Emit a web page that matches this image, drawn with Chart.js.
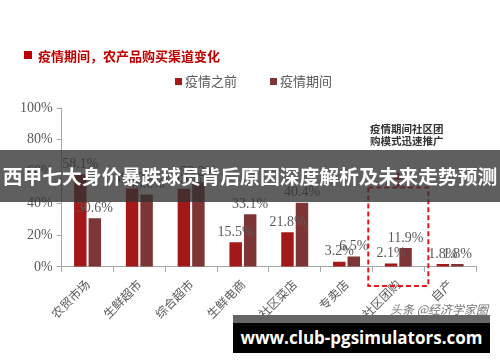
<!DOCTYPE html>
<html>
<head>
<meta charset="utf-8">
<script src="https://cdn.jsdelivr.net/npm/chart.js@4"></script>
<style>
  body { margin: 0; background: #fff; }
  #wrap { position: relative; width: 500px; height: 362px; overflow: hidden; }
  #chart { position: absolute; left: 0; top: 0; }
  .title { position: absolute; left: 24px; top: 46px; font: bold 13px "Noto Sans CJK SC"; color: #c00000; white-space: nowrap; }
  .title span { display: inline-block; width: 8px; height: 8px; background: #c00000; margin-right: 6px; vertical-align: 2px; }
  .legend { position: absolute; top: 71px; font: 13px "Noto Sans CJK SC"; color: #595959; white-space: nowrap; }
  .legend span { display: inline-block; width: 7px; height: 7px; margin-right: 3px; vertical-align: 1px; }
  .note { position: absolute; left: 370px; top: 123px; font: bold 10.5px "Noto Sans CJK SC"; color: #333; line-height: 12px; white-space: nowrap; }
  .banner { position: absolute; left: 0; top: 150px; width: 500px; height: 52px; background: rgba(50,50,50,0.78);
    color: #fff; font: bold 19.8px "Noto Sans CJK SC"; line-height: 52px; text-align: center; white-space: nowrap; letter-spacing: 0; }
  .mark { position: absolute; left: 390px; top: 300px; font: italic 12px "Noto Sans CJK SC"; color: #777; white-space: nowrap; }
  .strip { position: absolute; left: 233px; top: 315px; width: 257px; height: 8px; background: #666; }
  .site { position: absolute; left: 233px; top: 323px; width: 257px; height: 30px; background: #000; color: #fff;
    font: bold 17px "Open Sans"; line-height: 30px; text-align: center; white-space: nowrap; }
</style>
</head>
<body>
<div id="wrap">
  <canvas id="chart" width="500" height="362"></canvas>
  <div class="title"><span></span>疫情期间，农产品购买渠道变化</div>
  <div class="legend" style="left:175px"><span style="background:#a31818"></span>疫情之前</div>
  <div class="legend" style="left:270px"><span style="background:#7e3535"></span>疫情期间</div>
  <div class="note">疫情期间社区团<br>购模式迅速推广</div>
  <div class="banner">西甲七大身价暴跌球员背后原因深度解析及未来走势预测</div>
  <div class="mark">头条 @经济学家圈</div>
  <div class="strip"></div>
  <div class="site">www.club-pgsimulators.com</div>
</div>
<script>
const categories = ["农贸市场", "生鲜超市", "综合超市", "生鲜电商", "社区菜店", "专卖店", "社区团购", "自产"];
const beforeValues = [58.1, 49.4, 49.1, 15.5, 21.8, 3.2, 2.1, 1.8];
const duringValues = [30.6, 45.6, 53.2, 33.1, 40.4, 6.5, 11.9, 1.8];
const seriesNames = ["疫情之前", "疫情期间"];
const yTicks = [0, 10, 20, 30, 40, 50, 60, 70, 80, 90, 100];

const axisGray = "#a6a6a6";
const textGray = "#595959";

// value labels above each bar
const valueLabels = {
  id: "valueLabels",
  afterDatasetsDraw(chart) {
    const ctx = chart.ctx;
    ctx.save();
    ctx.font = '14px "Liberation Serif"';
    ctx.fillStyle = textGray;
    ctx.textAlign = "center";
    ctx.textBaseline = "bottom";
    chart.data.datasets.forEach((ds, i) => {
      chart.getDatasetMeta(i).data.forEach((bar, j) => {
        ctx.fillText(ds.data[j].toFixed(1) + "%", bar.x, bar.y - 3);
      });
    });
    ctx.restore();
  }
};

// dashed box + arrow around 社区团购
const highlight = {
  id: "highlight",
  afterDatasetsDraw(chart) {
    const { ctx, scales: { x, y } } = chart;
    const cx = x.getPixelForValue(6);
    const half = (x.getPixelForValue(1) - x.getPixelForValue(0)) * 0.58;
    const top = y.getPixelForValue(50);
    const bottom = y.getPixelForValue(0) + 19;
    const tip = y.getPixelForValue(60);
    ctx.save();
    ctx.strokeStyle = "#e8161b";
    ctx.lineWidth = 2;
    ctx.setLineDash([5, 3]);
    ctx.strokeRect(cx - half, top, half * 2, bottom - top);
    ctx.beginPath();
    ctx.moveTo(cx, top);
    ctx.lineTo(cx, tip + 6);
    ctx.stroke();
    ctx.setLineDash([]);
    ctx.fillStyle = "#e8161b";
    ctx.beginPath();
    ctx.moveTo(cx, tip);
    ctx.lineTo(cx - 5, tip + 8);
    ctx.lineTo(cx + 5, tip + 8);
    ctx.closePath();
    ctx.fill();
    ctx.restore();
  }
};

new Chart(document.getElementById("chart"), {
  type: "bar",
  data: {
    labels: categories,
    datasets: [
      { label: seriesNames[0], data: beforeValues, backgroundColor: "#a31818" },
      { label: seriesNames[1], data: duringValues, backgroundColor: "#7e3535" }
    ]
  },
  options: {
    responsive: false,
    animation: false,
    datasets: { bar: { categoryPercentage: 0.56, barPercentage: 0.86 } },
    layout: { padding: { left: 16, right: 24, top: 108, bottom: 36 } },
    plugins: { legend: { display: false }, tooltip: { enabled: false } },
    scales: {
      x: {
        grid: { offset: true, drawOnChartArea: false, color: axisGray, tickLength: 5 },
        border: { color: axisGray },
        ticks: { color: textGray, font: { family: "Noto Sans CJK SC", size: 12 }, maxRotation: 45, minRotation: 45, padding: 5 }
      },
      y: {
        min: 0,
        max: 100,
        afterBuildTicks: (axis) => { axis.ticks = yTicks.map(v => ({ value: v })); },
        grid: { drawOnChartArea: false, color: axisGray, tickLength: 5 },
        border: { color: axisGray },
        ticks: { color: textGray, font: { family: "Liberation Serif", size: 14 }, padding: 4, callback: v => v + "%" }
      }
    }
  },
  plugins: [valueLabels, highlight]
});
</script>
</body>
</html>
